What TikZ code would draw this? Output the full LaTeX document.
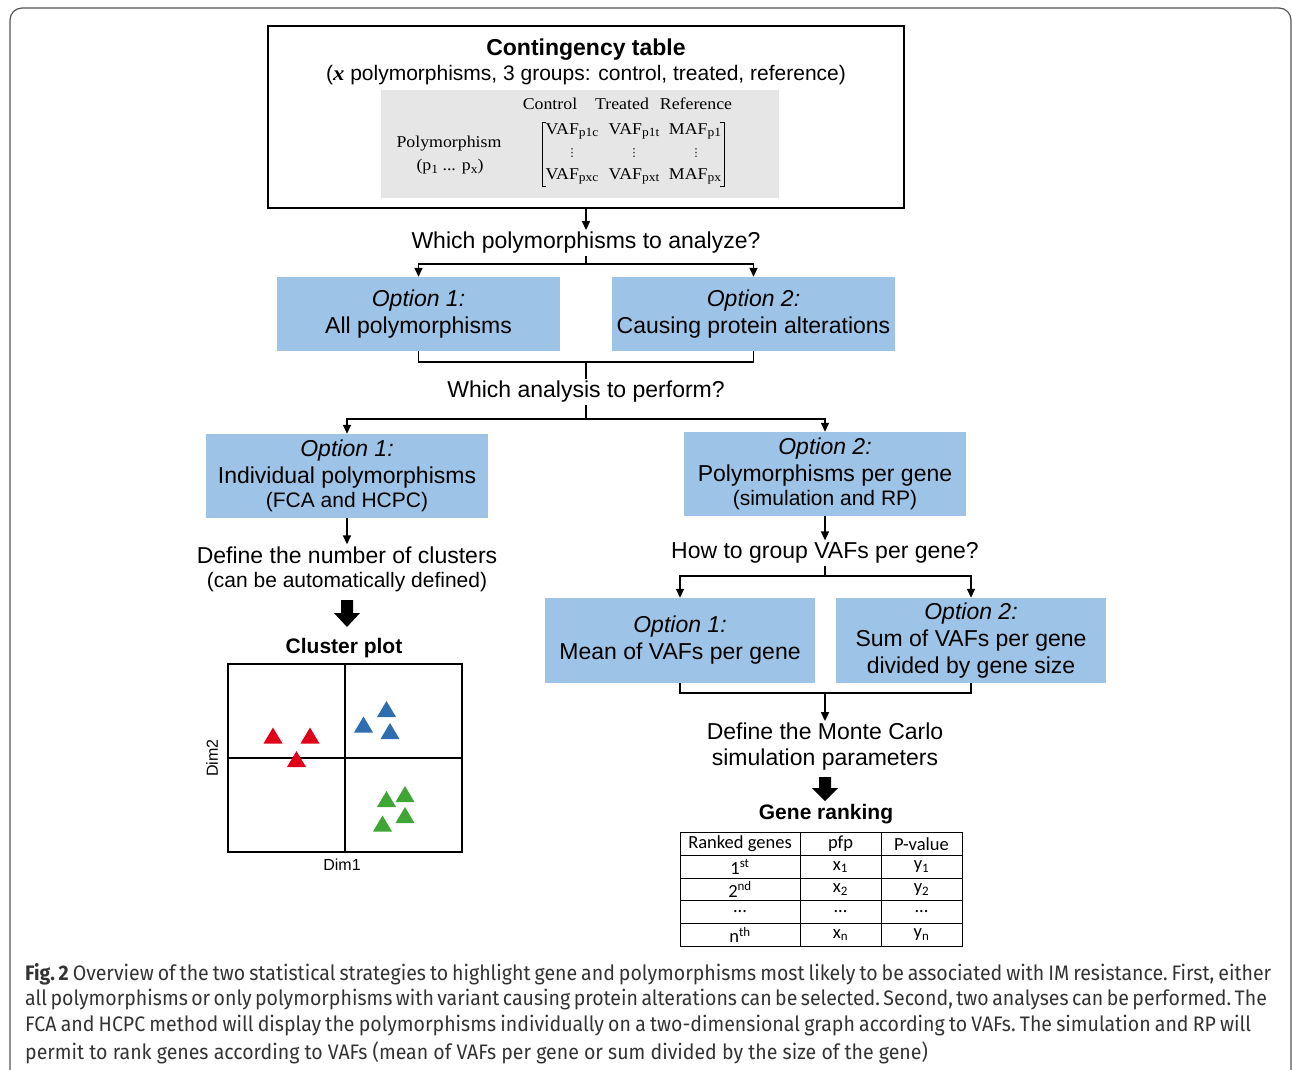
\documentclass[tikz,border=0pt]{standalone}
\usepackage{fontspec}
\setmainfont{Liberation Sans}
\newfontfamily\serifc[FakeStretch=1.08]{Liberation Serif}
\newfontfamily\calib{Carlito}
\newfontfamily\dejavu{DejaVu Sans}
\newfontfamily\capfont[FakeStretch=0.93]{Fira Sans}
\usetikzlibrary{arrows.meta}
\definecolor{optblue}{HTML}{9DC3E6}
\definecolor{plotred}{HTML}{E0001B}
\definecolor{plotblue}{HTML}{2E6EB0}
\definecolor{plotgreen}{HTML}{3FA535}
\definecolor{boxgray}{HTML}{E6E6E6}
\definecolor{capgray}{HTML}{333333}
\definecolor{framegray}{HTML}{555555}
\newcommand\mytri[3]{\fill[#3] ({#1-9.5},{#2+8}) -- ({#1+9.5},{#2+8}) -- (#1,{#2-8}) -- cycle;}
\newcommand\sbs[1]{\raisebox{-0.35ex}{\fontsize{12.5}{13}\selectfont #1}}
\newcommand\vd{{\dejavu\fontsize{11}{11}\selectfont ⋮}}
\begin{document}
\begin{tikzpicture}[x=1pt,y=-1pt,
  conn/.style={line width=1.6pt,-{Triangle[width=8pt,length=9pt]}},
  link/.style={line width=1.6pt},
  optbox/.style={fill=optblue,inner sep=0pt,align=center,font=\fontsize{23}{27}\selectfont},
  qtext/.style={inner sep=2pt,align=center,font=\fontsize{23}{26}\selectfont},
  ser/.style={inner sep=0pt,font=\serifc\fontsize{16.5}{18}\selectfont},
  mcell/.style={ser,text height=11pt,text depth=3pt},
  dcell/.style={inner sep=0pt,text height=8pt,text depth=0pt},
  cell/.style={inner sep=0pt,font=\calib\fontsize{18.5}{20}\selectfont},
  capline/.style={anchor=west,inner sep=0pt,font=\capfont\fontsize{21}{24}\selectfont\frenchspacing,text=capgray},
  blockarrow/.style={fill=black},
]
\useasboundingbox (0,0) rectangle (1293,1069);
\draw[framegray,line width=1.2pt,rounded corners=12pt] (10,1120) -- (10,8) -- (1291,8) -- (1291,1120);

% contingency table
\node[draw,line width=2pt,minimum width=636pt,minimum height=182pt,inner sep=0pt] (ct) at (586,117) {};
\node[font=\bfseries\fontsize{23}{24}\selectfont,inner sep=0pt] (cttitle) at (586,50) {Contingency table};
\node[font=\fontsize{21}{24}\selectfont,inner sep=0pt] (ctsub) at (586,75) {({\serifc\bfseries\itshape x} polymorphisms, 3 groups: control, treated, reference)};
\node[fill=boxgray,minimum width=398pt,minimum height=108pt,inner sep=0pt] (gbox) at (580,144) {};
\node[ser] (hc) at (550,104) {Control};
\node[ser] (ht) at (622,104) {Treated};
\node[ser] (hr) at (696,104) {Reference};
\node[ser] (pl) at (449,144) {Polymorphism};
\node[ser] (pr) at (450,167) {(p\sbs{1} ... p\sbs{x})};
\node[mcell] (m11) at (572,130) {VAF\sbs{p1c}};
\node[mcell] (m12) at (634,130) {VAF\sbs{p1t}};
\node[mcell] (m13) at (695,130) {MAF\sbs{p1}};
\node[dcell] (m21) at (572,152) {\vd};
\node[dcell] (m22) at (634,152) {\vd};
\node[dcell] (m23) at (696,152) {\vd};
\node[mcell] (m31) at (572,175) {VAF\sbs{pxc}};
\node[mcell] (m32) at (634,175) {VAF\sbs{pxt}};
\node[mcell] (m33) at (695,175) {MAF\sbs{px}};
\draw[line width=1pt] (546,122) -- (542,122) -- (542,186) -- (546,186);
\draw[line width=1pt] (720,122) -- (724,122) -- (724,186) -- (720,186);

% question 1
\node[qtext] (q1) at (586,243) {Which polymorphisms to analyze?};
\draw[conn] (ct.south) -- (q1.north);
\node[optbox,minimum width=283pt,minimum height=74pt] (o1) at (418.5,314) {\textit{Option 1:}\\All polymorphisms};
\node[optbox,minimum width=283pt,minimum height=74pt] (o2) at (753.5,314) {\textit{Option 2:}\\Causing protein alterations};
\coordinate (j1) at (586,264);
\draw[link] (q1.south) -- (j1);
\draw[conn] (j1) -| (o1.north);
\draw[conn] (j1) -| (o2.north);

% question 2
\coordinate (j2) at (586,362);
\node[qtext] (q2) at (586,392) {Which analysis to perform?};
\draw[link] (o1.south) |- (j2) -| (o2.south);
\draw[link] (j2) -- (q2.north);
\coordinate (j3) at (586,419);
\node[optbox,minimum width=282pt,minimum height=84pt] (o3) at (347,476) {\textit{Option 1:}\\Individual polymorphisms\\[-3pt]{\fontsize{21}{22}\selectfont(FCA and HCPC)}};
\node[optbox,minimum width=282pt,minimum height=84pt] (o4) at (825,474) {\textit{Option 2:}\\Polymorphisms per gene\\[-3pt]{\fontsize{21}{22}\selectfont(simulation and RP)}};
\draw[link] (q2.south) -- (j3);
\draw[conn] (j3) -| (o3.north);
\draw[conn] (j3) -| (o4.north);

% left branch
\node[qtext] (q3) at (347,569) {Define the number of clusters\\[-2pt]{\fontsize{21}{22}\selectfont(can be automatically defined)}};
\draw[conn] (o3.south) -- (q3.north);
\fill[blockarrow] (341,600) -- (353,600) -- (353,613) -- (360,613) -- (347,627) -- (334,613) -- (341,613) -- cycle;
\node[font=\bfseries\fontsize{21}{22}\selectfont,inner sep=0pt] (cp) at (344,648) {Cluster plot};
\node[draw,line width=2pt,minimum width=234pt,minimum height=188pt,inner sep=0pt] (plot) at (345,758) {};
\draw[line width=2pt] (plot.north) -- (plot.south);
\draw[line width=2pt] (plot.west) -- (plot.east);
\node[font=\fontsize{16}{18}\selectfont,inner sep=0pt,rotate=90] (d2) at (212,758) {Dim2};
\node[font=\fontsize{16}{18}\selectfont,inner sep=0pt] (d1) at (342,865) {Dim1};
\mytri{273}{735.5}{plotred}
\mytri{310}{735.5}{plotred}
\mytri{296.5}{759}{plotred}
\mytri{363.5}{724.5}{plotblue}
\mytri{386.5}{709}{plotblue}
\mytri{390}{731}{plotblue}
\mytri{386.5}{799}{plotgreen}
\mytri{405}{794}{plotgreen}
\mytri{405}{815}{plotgreen}
\mytri{382.5}{823.5}{plotgreen}

% right branch
\node[qtext] (q4) at (825,553) {How to group VAFs per gene?};
\draw[conn] (o4.south) -- (q4.north);
\node[optbox,minimum width=270pt,minimum height=85pt] (o5) at (680,640.5) {\textit{Option 1:}\\Mean of VAFs per gene};
\node[optbox,minimum width=270pt,minimum height=85pt] (o6) at (971,640.5) {\textit{Option 2:}\\Sum of VAFs per gene\\divided by gene size};
\coordinate (j4) at (825,576);
\draw[link] (q4.south) -- (j4);
\draw[conn] (j4) -| (o5.north);
\draw[conn] (j4) -| (o6.north);
\coordinate (j5) at (825,693);
\node[qtext] (q5) at (825,747) {Define the Monte Carlo\\simulation parameters};
\draw[link] (o5.south) |- (j5) -| (o6.south);
\draw[conn] (j5) -- (q5.north);
\fill[blockarrow] (819,777) -- (831,777) -- (831,788) -- (838,788) -- (825,801) -- (812,788) -- (819,788) -- cycle;
\node[font=\bfseries\fontsize{21}{22}\selectfont,inner sep=0pt] (gr) at (826,814) {Gene ranking};

% table
\draw[line width=1pt] (680,832) rectangle (962,946);
\foreach \yy in {855,878,900,923} \draw[line width=1pt] (680,\yy) -- (962,\yy);
\foreach \xx in {800,881} \draw[line width=1pt] (\xx,832) -- (\xx,946);
\node[cell] (t11) at (740,844) {Ranked genes};
\node[cell] (t12) at (840.5,844) {pfp};
\node[cell] (t13) at (921.5,844) {P-value};
\node[cell] (t21) at (740,867) {1\textsuperscript{st}};
\node[cell] (t22) at (840.5,867) {x\textsubscript{1}};
\node[cell] (t23) at (921.5,867) {y\textsubscript{1}};
\node[cell] (t31) at (740,889.5) {2\textsuperscript{nd}};
\node[cell] (t32) at (840.5,889.5) {x\textsubscript{2}};
\node[cell] (t33) at (921.5,889.5) {y\textsubscript{2}};
\node[cell] (t41) at (740,912) {...};
\node[cell] (t42) at (840.5,912) {...};
\node[cell] (t43) at (921.5,912) {...};
\node[cell] (t51) at (740,935) {n\textsuperscript{th}};
\node[cell] (t52) at (840.5,935) {x\textsubscript{n}};
\node[cell] (t53) at (921.5,935) {y\textsubscript{n}};

% caption
\node[capline] (c1) at (25,974) {\makebox[1246pt][s]{\textbf{Fig. 2} Overview of the two statistical strategies to highlight gene and polymorphisms most likely to be associated with IM resistance. First, either}};
\node[capline] (c2) at (25,1000) {\makebox[1237pt][s]{all polymorphisms or only polymorphisms with variant causing protein alterations can be selected. Second, two analyses can be performed. The}};
\node[capline] (c3) at (25,1026) {\makebox[1226pt][s]{FCA and HCPC method will display the polymorphisms individually on a two-dimensional graph according to VAFs. The simulation and RP will}};
\node[capline] (c4) at (25,1053) {permit to rank genes according to VAFs (mean of VAFs per gene or sum divided by the size of the gene)};
\end{tikzpicture}
\end{document}
